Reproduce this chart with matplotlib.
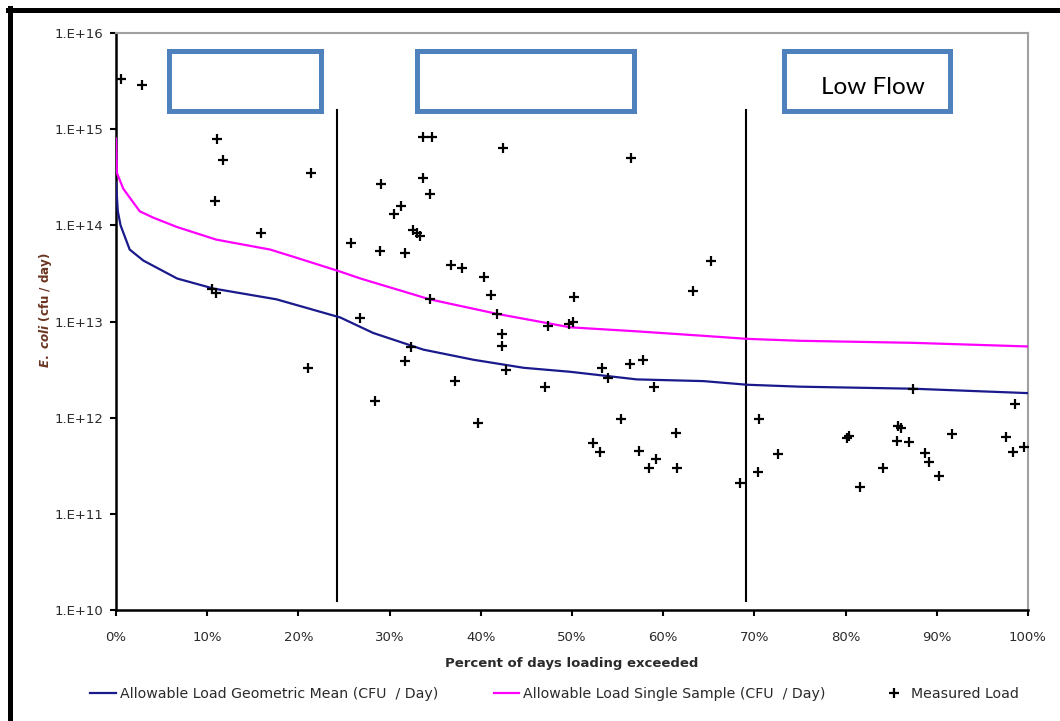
import matplotlib
matplotlib.use('Agg')
import matplotlib.pyplot as plt
from matplotlib.lines import Line2D
from matplotlib.patches import Rectangle

plt.rcParams['font.family'] = ['DejaVu Sans']
plt.rcParams['mathtext.fontset'] = 'custom'
plt.rcParams['mathtext.it'] = 'DejaVu Sans:italic:bold'
plt.rcParams['mathtext.rm'] = 'DejaVu Sans:bold'

# Allowable load - geometric mean (percent of days, cfu/day)
geo_pct = [0, 0.2, 0.5, 1.5, 3, 6.7, 10.7, 17.6, 24.6, 28.2, 33.7, 39.2,
           44.7, 49.8, 57.1, 64.4, 69.2, 75, 87.4, 100]
geo_load = [2.8e14, 1.4e14, 1.0e14, 5.6e13, 4.3e13, 2.8e13, 2.2e13, 1.7e13,
            1.1e13, 7.6e12, 5.1e12, 4.0e12, 3.3e12, 3.0e12, 2.5e12, 2.4e12,
            2.2e12, 2.1e12, 2.0e12, 1.8e12]

# Allowable load - single sample
ss_pct = [0, 0.1, 0.8, 2.6, 4.1, 6.7, 11.0, 16.9, 19.8, 24.6, 26.8, 34.4,
          41.8, 49.8, 57.1, 64.4, 69.2, 75, 87.4, 100]
ss_load = [8.0e14, 3.5e14, 2.4e14, 1.4e14, 1.2e14, 9.6e13, 7.1e13, 5.6e13,
           4.6e13, 3.3e13, 2.8e13, 1.7e13, 1.2e13, 8.7e12, 7.9e12, 7.1e12,
           6.6e12, 6.3e12, 6.0e12, 5.5e12]

# Measured load
meas_pct = [0.6, 2.9, 11.1, 11.7, 21.4, 10.9, 15.9, 10.5, 11.0, 21.1,
            33.7, 34.6, 42.4, 33.7, 34.4, 29.1, 31.3, 30.5, 32.6, 33.3,
            33.0, 25.8, 28.9, 31.7, 36.7, 37.9, 40.3, 41.1, 34.4, 41.8,
            26.8, 47.4, 49.7, 50.1, 50.2, 42.3, 42.3, 32.3, 31.7, 42.8,
            37.2, 47.0, 28.4, 39.7, 63.3, 53.3, 54.0, 56.4, 57.8, 59.0,
            55.4, 61.4, 52.3, 53.1, 57.3, 59.2, 58.4, 61.5, 68.4, 70.5,
            72.6, 70.4, 56.5, 65.2, 87.4, 98.6, 80.1, 80.4, 85.7, 86.1,
            85.6, 87.0, 91.7, 97.6, 88.7, 89.1, 98.4, 99.6, 84.1, 90.2,
            81.6]
meas_load = [3.3e15, 2.9e15, 7.9e14, 4.8e14, 3.5e14, 1.8e14, 8.3e13, 2.2e13, 2.0e13, 3.3e12,
             8.2e14, 8.2e14, 6.4e14, 3.1e14, 2.1e14, 2.7e14, 1.6e14, 1.3e14, 8.9e13, 7.7e13,
             8.3e13, 6.5e13, 5.4e13, 5.1e13, 3.9e13, 3.6e13, 2.9e13, 1.9e13, 1.7e13, 1.2e13,
             1.1e13, 8.9e12, 9.5e12, 1.0e13, 1.8e13, 7.5e12, 5.6e12, 5.4e12, 3.9e12, 3.1e12,
             2.4e12, 2.1e12, 1.5e12, 8.7e11, 2.1e13, 3.3e12, 2.6e12, 3.6e12, 4.0e12, 2.1e12,
             9.6e11, 6.9e11, 5.4e11, 4.4e11, 4.5e11, 3.7e11, 3.0e11, 3.0e11, 2.1e11, 9.8e11,
             4.2e11, 2.7e11, 5.0e14, 4.3e13, 2.0e12, 1.4e12, 6.2e11, 6.5e11, 8.2e11, 7.9e11,
             5.7e11, 5.6e11, 6.7e11, 6.3e11, 4.3e11, 3.5e11, 4.4e11, 4.9e11, 3.0e11, 2.5e11,
             1.9e11]

# flow regime dividers (percent of days)
dividers = [24.2, 69.1]

x_ticks = [0, 10, 20, 30, 40, 50, 60, 70, 80, 90, 100]
x_labels = ['0%', '10%', '20%', '30%', '40%', '50%', '60%', '70%', '80%', '90%', '100%']
y_ticks = [1e10, 1e11, 1e12, 1e13, 1e14, 1e15, 1e16]
y_labels = ['1.E+10', '1.E+11', '1.E+12', '1.E+13', '1.E+14', '1.E+15', '1.E+16']

W, H = 1060, 721
fig = plt.figure(figsize=(W / 100, H / 100), dpi=100)
ax = fig.add_axes([116 / W, 1 - 610 / H, 912 / W, 577 / H])

ax.plot(geo_pct, geo_load, color='#1a1a8c', lw=1.6, zorder=3)
ax.plot(ss_pct, ss_load, color='#ff00ff', lw=1.6, zorder=3)
ax.plot(meas_pct, meas_load, ls='none', marker='+', color='black',
        markersize=7, markeredgewidth=1.6, zorder=4)
for d in dividers:
    ax.plot([d, d], [1.23e10, 1.6e15], color='black', lw=1.5, zorder=2)

ax.set_yscale('log')
ax.set_xlim(0, 100)
ax.set_ylim(1e10, 1e16)
ax.set_xticks(x_ticks)
ax.set_xticklabels(x_labels)
ax.set_yticks(y_ticks)
ax.set_yticklabels(y_labels)
ax.minorticks_off()
ax.tick_params(axis='both', direction='out', length=4, width=1.5,
               labelsize=9.5, labelcolor='#2a2a2a')
ax.tick_params(axis='x', pad=11)
ax.tick_params(axis='y', pad=5)

for s in ['left', 'bottom']:
    ax.spines[s].set_color('black')
    ax.spines[s].set_linewidth(1.8)
for s in ['top', 'right']:
    ax.spines[s].set_color('#a0a0a0')
    ax.spines[s].set_linewidth(1.5)

ax.set_xlabel('Percent of days loading exceeded', fontsize=9.5,
              fontweight='bold', color='#2a2a2a')
ax.xaxis.set_label_coords(0.5, -0.082)
ax.set_ylabel(r'$E.\ coli$ (cfu / day)', fontsize=8.6, fontweight='bold',
              color='#6a3420')
ax.yaxis.set_label_coords(-0.068, 0.52)

# legend
handles = [Line2D([], [], color='#1a1a8c', lw=1.6),
           Line2D([], [], color='#ff00ff', lw=1.6),
           Line2D([], [], ls='none', marker='+', color='black',
                  markersize=7, markeredgewidth=1.6)]
labels = ['Allowable Load Geometric Mean (CFU  / Day)',
          'Allowable Load Single Sample (CFU  / Day)',
          'Measured Load']
fig.legend(handles, labels, loc='center', bbox_to_anchor=(0.523, 1 - 694 / H),
           ncol=3, frameon=False, fontsize=10.2, handlelength=1.8,
           handletextpad=0.3, columnspacing=3.9, labelcolor='#2a2a2a')

# flow regime boxes
boxes = [(169, 51, 321, 111), (417, 51, 634, 111), (784, 51, 950, 111)]
for x0, y0, x1, y1 in boxes:
    fig.add_artist(Rectangle((x0 / W, 1 - y1 / H), (x1 - x0) / W, (y1 - y0) / H,
                             transform=fig.transFigure, facecolor='white',
                             edgecolor='#4f81bd', lw=3.6, zorder=5))
fig.text(873 / W, 1 - 88 / H, 'Low Flow', ha='center', va='center',
         fontsize=17.5, family=['Lato', 'DejaVu Sans'], color='black', zorder=6)

# outer frame (top and left edges)
fig.add_artist(Line2D([8 / W, 1], [1 - 9.5 / H, 1 - 9.5 / H],
                      transform=fig.transFigure, color='black', lw=3.6))
fig.add_artist(Line2D([9.5 / W, 9.5 / W], [0, 1 - 8 / H],
                      transform=fig.transFigure, color='black', lw=3.6))

fig.savefig('out.png', dpi=100, facecolor='white')
